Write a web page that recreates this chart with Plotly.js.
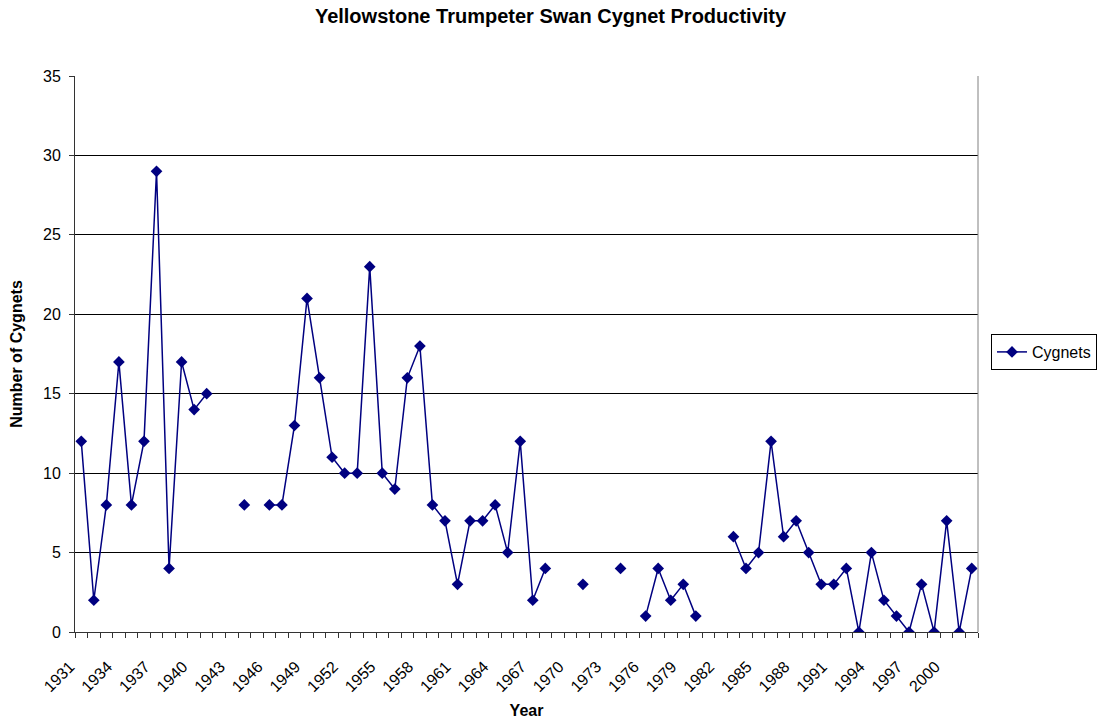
<!DOCTYPE html>
<html>
<head>
<meta charset="utf-8">
<script src="https://cdn.plot.ly/plotly-3.0.1.min.js"></script>
<style>html,body{margin:0;padding:0;background:#fff;}#chart{width:1101px;height:721px;}</style>
</head>
<body>
<div id="chart"></div>
<script>
const years = [1931,1932,1933,1934,1935,1936,1937,1938,1939,1940,1941,1942,1943,1944,1945,1946,1947,1948,1949,1950,
  1951,1952,1953,1954,1955,1956,1957,1958,1959,1960,1961,1962,1963,1964,1965,1966,1967,1968,1969,1970,
  1971,1972,1973,1974,1975,1976,1977,1978,1979,1980,1981,1982,1983,1984,1985,1986,1987,1988,1989,1990,
  1991,1992,1993,1994,1995,1996,1997,1998,1999,2000,2001,2002];
const cygnets = [12,2,8,17,8,12,29,4,17,14,15,null,null,8,null,8,8,13,21,16,
  11,10,10,23,10,9,16,18,8,7,3,7,7,8,5,12,2,4,null,null,
  3,null,null,4,null,1,4,2,3,1,null,null,6,4,5,12,6,7,5,3,
  3,4,0,5,2,1,0,3,0,7,0,4];
const labelYears = ['1931','1934','1937','1940','1943','1946','1949','1952','1955','1958','1961','1964',
  '1967','1970','1973','1976','1979','1982','1985','1988','1991','1994','1997','2000'];

// tick marks sit on category boundaries; labels on every third boundary
const tickPos = [];
const tickTxt = [];
for (let i = 0; i <= years.length; i++) {
  const b = years[0] - 0.5 + i;
  tickPos.push(b);
  const y = String(Math.round(b + 0.5));
  tickTxt.push(labelYears.indexOf(y) >= 0 ? y : '');
}

const font = 'Liberation Sans, Arial, sans-serif';
const trace = {
  x: years, y: cygnets, name: 'Cygnets', type: 'scatter', mode: 'lines+markers',
  connectgaps: false,
  line: {color: '#000080', width: 1.5},
  marker: {symbol: 'diamond', size: 9, color: '#000080'}
};
const layout = {
  width: 1101, height: 721,
  paper_bgcolor: '#fff', plot_bgcolor: '#fff',
  margin: {l: 75, r: 123, t: 76, b: 89},
  font: {family: font, size: 16, color: '#000'},
  title: {text: '<b>Yellowstone Trumpeter Swan Cygnet Productivity</b>', font: {family: font, size: 20, color: '#000'},
    x: 0.5, xref: 'container', xanchor: 'center', y: 0.988, yref: 'container', yanchor: 'top'},
  xaxis: {
    type: 'linear', range: [1930.5, 2002.5], tickmode: 'array', tickvals: tickPos, ticktext: tickTxt,
    tickangle: -45, ticks: 'outside', ticklen: 5, tickcolor: '#333', tickwidth: 1,
    showline: true, linecolor: '#333', linewidth: 1, showgrid: false, zeroline: false, automargin: false,
    tickfont: {family: font, size: 16, color: '#000'}, ticklabelstandoff: 13, ticklabelshift: -5,
    title: {text: '<b>Year</b>', font: {family: font, size: 16, color: '#000'}, standoff: 10}
  },
  yaxis: {
    range: [0, 35], dtick: 5, tick0: 0, ticks: 'outside', ticklen: 5, tickcolor: '#333',
    showline: true, linecolor: '#333', linewidth: 1, showgrid: true, gridcolor: '#000', gridwidth: 1,
    zeroline: false, automargin: false, tickfont: {family: font, size: 16, color: '#000'}, ticklabelstandoff: 5,
    title: {text: '<b>Number of Cygnets</b>', font: {family: font, size: 16, color: '#000'}, standoff: 16}
  },
  showlegend: true,
  legend: {x: 991 / 1101, xref: 'container', xanchor: 'left', y: 1 - 352 / 721, yref: 'container', yanchor: 'middle',
    bordercolor: '#000', borderwidth: 1, bgcolor: '#fff', font: {family: font, size: 16, color: '#000'}, itemwidth: 30,
    tracegroupgap: 0},
  shapes: [
    {type: 'line', xref: 'paper', yref: 'paper', x0: 1, x1: 1, y0: 0, y1: 1, line: {color: '#808080', width: 1}}
  ]
};
Plotly.newPlot('chart', [trace], layout, {displayModeBar: false, staticPlot: true});
</script>
</body>
</html>
